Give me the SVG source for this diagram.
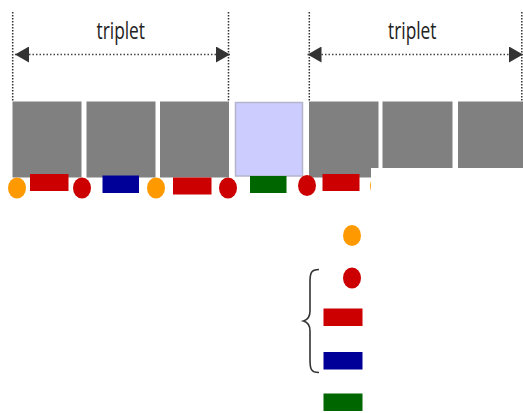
<svg xmlns="http://www.w3.org/2000/svg" width="523" height="413" viewBox="0 0 523 413">
  <style>
    .slot { fill: #808080; }
    .gap { fill: #ccccff; stroke: #b4b4cc; stroke-width: 1.5; }
    .guide { stroke: #333; stroke-width: 1.5; stroke-dasharray: 1.5 1.5; fill: none; }
    .span { stroke: #444; stroke-width: 1.5; stroke-dasharray: 1.5 2; fill: none; }
    .label { font-family: "Open Sans", "DejaVu Sans", sans-serif; font-size: 24px; fill: #222; }
    .orange { fill: #ff9900; }
    .red { fill: #cc0000; }
    .blue { fill: #000099; }
    .green { fill: #006600; }
    .brace { stroke: #333; stroke-width: 1.6; fill: none; }
  </style>
  <defs>
    <marker id="head" viewBox="0 0 14 16" refX="14" refY="8" markerWidth="14" markerHeight="16" markerUnits="userSpaceOnUse" orient="auto-start-reverse">
      <path d="M0,0 L14,8 L0,16 Z" fill="#333"/>
    </marker>
    <ellipse id="dot" rx="9" ry="10.5"/>
  </defs>

  <rect width="523" height="413" fill="#fff"/>

  <!-- sequence of slots -->
  <g id="slots">
    <rect id="slot1" class="slot" x="12.5" y="101.5" width="69" height="76"/>
    <rect id="slot2" class="slot" x="86.5" y="101.5" width="69" height="76"/>
    <rect id="slot3" class="slot" x="160" y="101.5" width="69" height="76"/>
    <rect id="slot4" class="gap" x="235.5" y="102.5" width="67" height="73.5"/>
    <rect id="slot5" class="slot" x="309" y="101.5" width="69.5" height="76"/>
    <rect id="slot6" class="slot" x="382.5" y="101.5" width="70" height="76"/>
    <rect id="slot7" class="slot" x="458" y="101.5" width="66" height="76"/>
  </g>

  <!-- markers below the slots -->
  <g id="row">
    <use href="#dot" class="orange" x="17" y="188"/>
    <rect class="red" x="30" y="174" width="38.5" height="17"/>
    <use href="#dot" class="red" x="82" y="188"/>
    <rect class="blue" x="102.5" y="175.5" width="36.5" height="17.5"/>
    <use href="#dot" class="orange" x="156" y="188"/>
    <rect class="red" x="173" y="177.5" width="38.5" height="17"/>
    <use href="#dot" class="red" x="228" y="188"/>
    <rect class="green" x="250" y="176" width="36.5" height="17"/>
    <use href="#dot" class="red" x="307" y="185.5"/>
    <rect class="red" x="322.5" y="174" width="37" height="17"/>
    <use href="#dot" class="orange" x="379" y="186"/>
  </g>

  <!-- blank area covering the lower right -->
  <rect x="371" y="168" width="152" height="245" fill="#fff"/>

  <!-- legend column -->
  <g id="legend">
    <use href="#dot" class="orange" x="352" y="235.5"/>
    <use href="#dot" class="red" x="352" y="278"/>
    <rect class="red" x="323.5" y="308.5" width="39" height="17.5"/>
    <rect class="blue" x="323.5" y="352" width="39" height="17.5"/>
    <rect class="green" x="323.5" y="393.5" width="39" height="17.5"/>
    <path class="brace" d="M319,269.5 C311,269.5 310,273 310,282 L310,311 C310,318 307,320 303.5,321 C307,322 310,324 310,331 L310,360 C310,369 311,372.5 319,372.5"/>
  </g>

  <!-- triplet spans -->
  <g id="connectors">
    <line class="guide" x1="12.7" y1="12" x2="12.7" y2="101"/>
    <line class="guide" x1="228.5" y1="12" x2="228.5" y2="101"/>
    <line class="guide" x1="309.3" y1="12" x2="309.3" y2="101"/>
    <line class="guide" x1="521.8" y1="12" x2="521.8" y2="101"/>
    <line class="span" x1="15" y1="54.5" x2="230" y2="54.5" marker-start="url(#head)" marker-end="url(#head)"/>
    <line class="span" x1="307.5" y1="54.5" x2="523" y2="54.5" marker-start="url(#head)" marker-end="url(#head)"/>
  </g>

  <g id="triplet1">
    <text class="label" x="96.5" y="38.5" textLength="48.5" lengthAdjust="spacingAndGlyphs">triplet</text>
  </g>
  <g id="triplet2">
    <text class="label" x="388" y="38.5" textLength="48.5" lengthAdjust="spacingAndGlyphs">triplet</text>
  </g>
</svg>
